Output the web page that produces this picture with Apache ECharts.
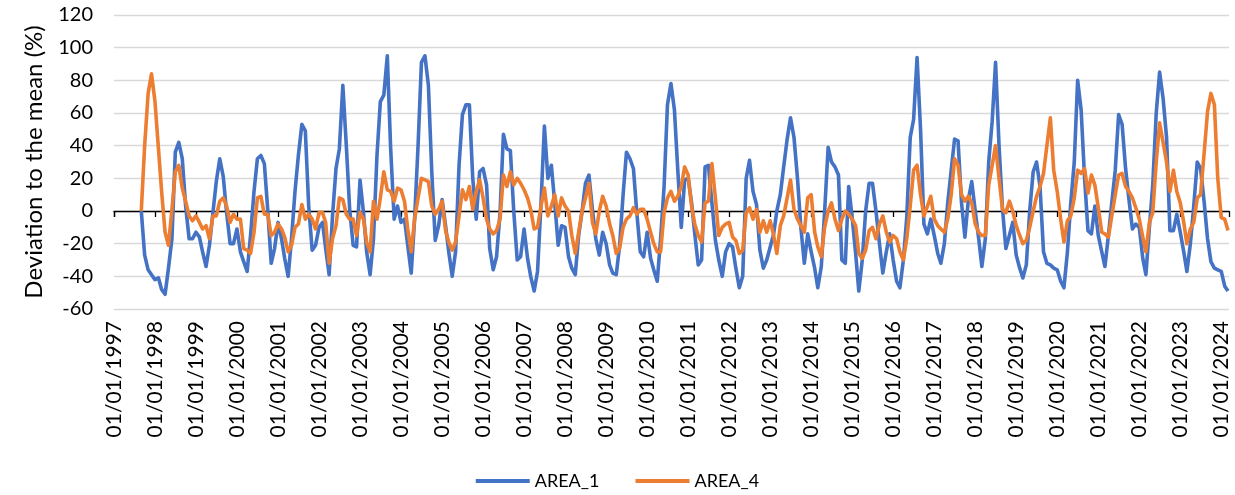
<!DOCTYPE html>
<html><head><meta charset="utf-8">
<script src="https://cdn.jsdelivr.net/npm/echarts@6/dist/echarts.min.js"></script>
<style>html,body{margin:0;padding:0;background:#fff}#c{width:1235px;height:495px}</style>
</head><body><div id="c"></div>
<script>
// first monthly value: September 1997
const startYear = 1997, startMonth = 9;
const seriesNames = ['AREA_1', 'AREA_4'];
const yTicks = { min: -60, max: 120, interval: 20 };
const xRange = ['1997-01-01', '2024-03-10'];

const area1 = [
  0, -27, -36, -39,
  -42, -41, -48, -51, -35, -17, 36, 42, 32, 3, -17, -17,
  -13, -16, -25, -34, -21, -1, 18, 32, 21, -1, -20, -20,
  -11, -25, -31, -37, -15, 12, 32, 34, 29, 1, -32, -23,
  -7, -17, -29, -40, -17, 12, 34, 53, 49, 3, -24, -21,
  -10, -7, -23, -39, -3, 26, 38, 77, 40, 1, -21, -22,
  19, -1, -25, -39, -17, 34, 67, 71, 95, 38, -5, 3,
  -7, -5, -21, -38, -5, 40, 91, 95, 77, 24, -18, -9,
  7, -9, -25, -40, -25, 28, 59, 65, 65, 20, -5, 24,
  26, 16, -23, -36, -28, -1, 47, 38, 37, 0, -30, -28,
  -11, -29, -40, -49, -37, 5, 52, 20, 28, 5, -21, -9,
  -10, -28, -35, -39, -15, 0, 17, 22, 1, -17, -27, -13,
  -20, -33, -38, -39, -21, 10, 36, 32, 26, -1, -25, -28,
  -13, -29, -36, -43, -17, 15, 65, 78, 62, 25, -10, 19,
  20, 5, -14, -33, -30, 27, 28, 5, -18, -30, -40, -25,
  -20, -22, -35, -47, -40, 20, 31, 12, 4, -24, -35, -30,
  -22, -14, 0, 10, 27, 44, 57, 45, 20, -10, -32, -14,
  -25, -35, -47, -34, 0, 39, 30, 27, 22, -30, -32, 15,
  -4, -26, -49, -30, 0, 17, 17, 0, -20, -38, -25, -14,
  -30, -43, -47, -30, -4, 45, 56, 94, 50, -8, -14, -5,
  -15, -26, -32, -20, 5, 25, 44, 43, 5, -16, 7, 18,
  0, -17, -34, -17, 30, 55, 91, 40, 1, -23, -15, -7,
  -27, -35, -41, -33, 0, 24, 30, 15, -25, -32, -33, -35,
  -36, -43, -47, -25, 5, 30, 80, 62, 20, -12, -14, 3,
  -15, -25, -34, -15, 5, 25, 59, 53, 26, 7, -11, -8,
  -10, -29, -39, -10, 16, 60, 85, 69, 45, -12, -12, -2,
  -13, -25, -37, -20, 3, 30, 26, 6, -17, -31, -35, -36,
  -37, -46, -49
];

const area4 = [
  0, 40, 72, 84,
  67, 38, 12, -13, -21, 1, 24, 28, 14, 6, -3, -6,
  -3, -7, -11, -9, -17, -3, -3, 6, 8, 3, -7, -2,
  -5, -5, -23, -24, -26, -13, 8, 9, -2, -2, -15, -13,
  -8, -11, -16, -25, -21, -10, -8, 4, -5, -2, -5, -11,
  -1, -1, -7, -32, -17, -9, 8, 7, -2, -5, -5, -15,
  -1, -5, -19, -25, 6, -5, 8, 24, 13, 12, 6, 14,
  13, 6, -11, -25, -5, 8, 20, 19, 18, 3, -2, 1,
  6, -12, -19, -24, -19, -3, 13, 7, 15, 1, 12, 19,
  8, -5, -11, -14, -12, -5, 22, 15, 24, 16, 20, 17,
  13, 8, 1, -11, -10, 3, 14, -3, 3, 10, -3, 8,
  3, 0, -15, -26, -13, 0, 8, 17, -7, -14, 0, 9,
  3, -8, -15, -26, -23, -10, -5, -3, 2, -2, 1, 1,
  -5, -13, -20, -25, -25, -1, 8, 12, 6, 9, 15, 27,
  22, 3, -8, -15, -19, 5, 6, 29, 8, -15, -10, -8,
  -7, -16, -18, -26, -24, -1, 2, -5, 1, -13, -6, -13,
  -6, -15, -26, -9, -3, 8, 19, 1, -5, -9, -13, 8,
  10, -13, -22, -28, -10, 0, 5, -5, -12, -5, 0, -2,
  -5, -9, -26, -29, -24, -12, -10, -17, -8, -3, -13, -19,
  -15, -17, -25, -30, -17, 3, 25, 28, 10, -3, 3, 9,
  -5, -9, -11, -13, -5, 10, 32, 28, 10, 6, 9, 5,
  -8, -13, -15, -15, 16, 28, 40, 20, 1, -1, 6, 0,
  -9, -15, -20, -18, -10, 0, 9, 15, 23, 40, 57, 25,
  12, -5, -19, -6, -3, 8, 25, 23, 26, 11, 22, 16,
  2, -13, -14, -16, -3, 10, 22, 23, 15, 12, 8, 2,
  -5, -16, -25, -7, -1, 30, 54, 42, 30, 12, 25, 12,
  5, -7, -20, -11, -7, 8, 10, 35, 61, 72, 65, 20,
  -4, -5, -12
];

function monthDate(i) {
  const t = startMonth - 1 + i;
  const y = startYear + Math.floor(t / 12);
  const m = (t % 12) + 1;
  return y + '-' + String(m).padStart(2, '0') + '-01';
}
const dates = area1.map((_, i) => monthDate(i));
const FONT = 'Lato';
const YEAR = 365 * 24 * 3600 * 1000;

const chart = echarts.init(document.getElementById('c'));
const baseX = {
  type: 'time', min: xRange[0], max: xRange[1],
  minInterval: YEAR, maxInterval: YEAR + 24 * 3600 * 1000,
  splitLine: { show: false }
};
chart.setOption({
  animation: false,
  textStyle: { fontFamily: FONT },
  grid: { left: 114, right: 6, top: 15, bottom: 186 },
  legend: {
    data: seriesNames, top: 467, left: 'center',
    icon: 'rect', itemWidth: 54, itemHeight: 4, itemGap: 36,
    textStyle: { fontFamily: FONT, fontSize: 18, color: '#000' }
  },
  xAxis: [
    Object.assign({}, baseX, {
      position: 'bottom',
      axisLine: { show: false, onZero: false },
      axisTick: { show: false },
      axisLabel: {
        rotate: 90, fontFamily: FONT, fontSize: 21, color: '#000', margin: 12,
        formatter: v => echarts.time.format(v, '{dd}/{MM}/{yyyy}', false)
      }
    }),
    Object.assign({}, baseX, {
      position: 'top',
      axisLine: { show: true, onZero: true, onZeroAxisIndex: 0, lineStyle: { color: '#000', width: 1.3 } },
      axisTick: { show: true, inside: true, length: 6, lineStyle: { color: '#000', width: 1.3 } },
      axisLabel: { show: false }
    })
  ],
  yAxis: {
    type: 'value', min: yTicks.min, max: yTicks.max, interval: yTicks.interval,
    name: 'Deviation to the mean (%)', nameLocation: 'middle', nameRotate: 90, nameGap: 68,
    nameTextStyle: { fontFamily: FONT, fontSize: 24, color: '#000' },
    axisLine: { show: false }, axisTick: { show: false },
    axisLabel: { fontFamily: FONT, fontSize: 20, color: '#000', margin: 21 },
    splitLine: { lineStyle: { color: '#D9D9D9', width: 1.3 } }
  },
  series: [
    { name: seriesNames[0], type: 'line', xAxisIndex: 0, data: dates.map((d, i) => [d, area1[i]]),
      showSymbol: false, color: '#4472C4', lineStyle: { width: 3.6, color: '#4472C4', join: 'round' } },
    { name: seriesNames[1], type: 'line', xAxisIndex: 0, data: dates.map((d, i) => [d, area4[i]]),
      showSymbol: false, color: '#ED7D31', lineStyle: { width: 3.6, color: '#ED7D31', join: 'round' } }
  ]
});
</script></body></html>
